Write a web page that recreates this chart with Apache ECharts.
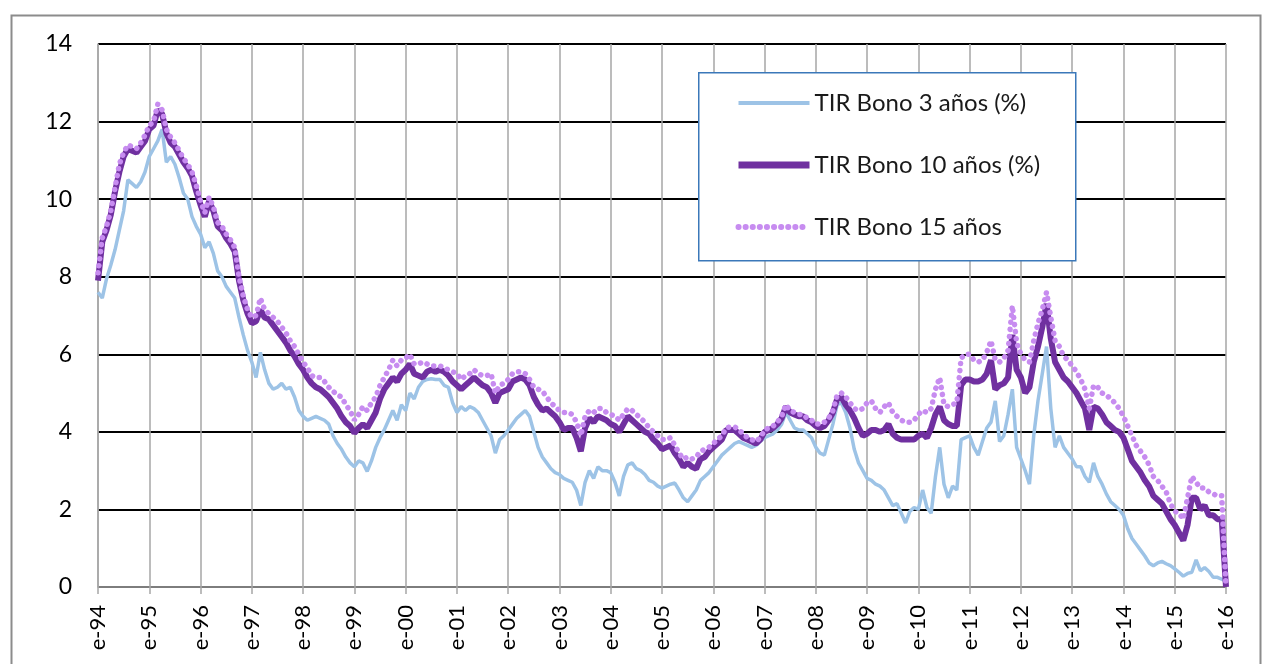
<!DOCTYPE html>
<html>
<head>
<meta charset="utf-8">
<script src="https://cdn.jsdelivr.net/npm/echarts@6/dist/echarts.min.js"></script>
<style>
  html, body { margin: 0; padding: 0; background: #fff; }
  #chart { width: 1263px; height: 664px; }
</style>
</head>
<body>
<div id="chart"></div>
<script>
// months e-94 .. e-16, one value per month
var monthLetters = ['e', 'f', 'm', 'a', 'm', 'j', 'j', 'a', 's', 'o', 'n', 'd'];
var firstYear = 1994, lastYear = 2016;
var yTicks = [0, 2, 4, 6, 8, 10, 12, 14];

var bono3 = [
  7.6, 7.45, 7.95, 8.3, 8.7, 9.2, 9.7, 10.5, 10.4, 10.3, 10.45, 10.7,     // 1994
  11.1, 11.3, 11.5, 11.8, 10.95, 11.1, 10.9, 10.55, 10.15, 10.0, 9.55, 9.3, // 1995
  9.1, 8.75, 8.9, 8.6, 8.15, 8.0, 7.75, 7.6, 7.45, 6.95, 6.5, 6.1,         // 1996
  5.8, 5.4, 6.05, 5.6, 5.25, 5.1, 5.15, 5.25, 5.1, 5.15, 4.9, 4.55,        // 1997
  4.4, 4.3, 4.35, 4.4, 4.35, 4.3, 4.2, 3.9, 3.7, 3.55, 3.35, 3.2,          // 1998
  3.1, 3.25, 3.2, 2.98, 3.25, 3.6, 3.85, 4.05, 4.3, 4.55, 4.3, 4.7,        // 1999
  4.55, 5.0, 4.85, 5.15, 5.3, 5.35, 5.37, 5.35, 5.35, 5.2, 5.15, 4.75,     // 2000
  4.5, 4.65, 4.55, 4.65, 4.6, 4.5, 4.3, 4.1, 3.9, 3.45, 3.8, 3.9,          // 2001
  4.05, 4.2, 4.35, 4.45, 4.55, 4.4, 4.0, 3.6, 3.35, 3.2, 3.05, 2.95,       // 2002
  2.9, 2.8, 2.75, 2.7, 2.5, 2.1, 2.7, 3.0, 2.8, 3.1, 3.0, 3.0,             // 2003
  2.95, 2.7, 2.35, 2.85, 3.15, 3.2, 3.05, 3.0, 2.9, 2.75, 2.7, 2.6,        // 2004
  2.55, 2.6, 2.65, 2.68, 2.5, 2.3, 2.2, 2.35, 2.5, 2.75, 2.85, 2.95,       // 2005
  3.1, 3.25, 3.4, 3.5, 3.6, 3.7, 3.75, 3.7, 3.65, 3.6, 3.65, 3.75,         // 2006
  3.85, 3.9, 3.95, 4.05, 4.2, 4.5, 4.3, 4.1, 4.05, 4.05, 3.95, 3.85,       // 2007
  3.6, 3.45, 3.4, 3.8, 4.2, 4.7, 4.75, 4.5, 4.1, 3.55, 3.2, 3.0,           // 2008
  2.8, 2.75, 2.65, 2.6, 2.5, 2.3, 2.1, 2.15, 1.9, 1.65, 1.95, 2.05,        // 2009
  2.0, 2.5, 2.05, 1.9, 2.85, 3.6, 2.65, 2.3, 2.6, 2.5, 3.8, 3.85,          // 2010
  3.9, 3.6, 3.4, 3.75, 4.1, 4.25, 4.8, 3.75, 3.9, 4.45, 5.1, 3.6,          // 2011
  3.3, 3.0, 2.65, 3.9, 4.8, 5.5, 6.2, 4.6, 3.6, 3.9, 3.6, 3.45,            // 2012
  3.3, 3.1, 3.1, 2.85, 2.7, 3.2, 2.85, 2.65, 2.4, 2.2, 2.1, 2.0,           // 2013
  1.85, 1.5, 1.25, 1.1, 0.95, 0.8, 0.62, 0.55, 0.62, 0.66, 0.6, 0.55,      // 2014
  0.47, 0.38, 0.28, 0.35, 0.38, 0.7, 0.42, 0.5, 0.4, 0.25, 0.25, 0.2,      // 2015
  0.15                                                                    // 2016
];

var bono10 = [
  7.9, 8.9, 9.2, 9.6, 10.2, 10.7, 11.1, 11.3, 11.25, 11.2, 11.35, 11.5,   // 1994
  11.8, 11.9, 12.3, 12.2, 11.7, 11.45, 11.35, 11.15, 10.95, 10.8, 10.6, 10.2, // 1995
  9.85, 9.55, 9.95, 9.7, 9.3, 9.2, 9.0, 8.85, 8.65, 7.9, 7.4, 7.05,       // 1996
  6.8, 6.85, 7.15, 6.95, 6.9, 6.75, 6.6, 6.45, 6.3, 6.1, 5.95, 5.75,      // 1997
  5.6, 5.4, 5.25, 5.15, 5.1, 5.0, 4.9, 4.75, 4.6, 4.4, 4.25, 4.15,        // 1998
  3.97, 4.1, 4.2, 4.1, 4.3, 4.5, 4.85, 5.1, 5.25, 5.4, 5.3, 5.5,          // 1999
  5.6, 5.75, 5.5, 5.45, 5.4, 5.55, 5.6, 5.55, 5.6, 5.55, 5.45, 5.3,       // 2000
  5.2, 5.1, 5.2, 5.3, 5.4, 5.3, 5.2, 5.15, 5.0, 4.75, 5.0, 5.05,          // 2001
  5.1, 5.3, 5.35, 5.4, 5.35, 5.2, 4.9, 4.7, 4.55, 4.6, 4.5, 4.4,          // 2002
  4.25, 4.05, 4.1, 4.1, 3.85, 3.5, 4.1, 4.35, 4.25, 4.4, 4.35, 4.3,       // 2003
  4.2, 4.15, 4.0, 4.2, 4.4, 4.3, 4.2, 4.1, 4.0, 3.95, 3.8, 3.7,           // 2004
  3.55, 3.6, 3.65, 3.45, 3.3, 3.1, 3.2, 3.1, 3.05, 3.3, 3.35, 3.5,        // 2005
  3.6, 3.7, 3.8, 4.05, 4.05, 4.05, 3.95, 3.85, 3.8, 3.75, 3.7, 3.8,       // 2006
  4.0, 4.05, 4.1, 4.2, 4.35, 4.65, 4.5, 4.45, 4.4, 4.4, 4.3, 4.25,        // 2007
  4.15, 4.1, 4.15, 4.3, 4.5, 4.85, 4.9, 4.7, 4.55, 4.35, 4.1, 3.9,        // 2008
  3.95, 4.05, 4.05, 4.0, 4.05, 4.2, 3.95, 3.85, 3.8, 3.8, 3.8, 3.8,       // 2009
  3.9, 3.95, 3.85, 4.1, 4.45, 4.65, 4.3, 4.2, 4.15, 4.15, 5.2, 5.35,      // 2010
  5.35, 5.3, 5.3, 5.35, 5.5, 5.85, 5.1, 5.2, 5.25, 5.4, 6.5, 5.6,         // 2011
  5.4, 5.0, 5.15, 5.8, 6.2, 6.7, 7.3, 6.4, 5.8, 5.6, 5.4, 5.3,            // 2012
  5.15, 5.0, 4.8, 4.6, 4.05, 4.65, 4.6, 4.45, 4.25, 4.15, 4.05, 4.0,      // 2013
  3.85, 3.55, 3.25, 3.1, 2.95, 2.75, 2.6, 2.35, 2.25, 2.15, 1.95, 1.75,   // 2014
  1.6, 1.4, 1.2, 1.6, 2.3, 2.3, 2.0, 2.1, 1.85, 1.85, 1.75, 1.75,         // 2015
  0                                                                       // 2016
];

var bono15 = [
  8.1, 9.0, 9.3, 9.7, 10.3, 10.9, 11.2, 11.4, 11.35, 11.3, 11.45, 11.65,  // 1994
  11.9, 12.0, 12.45, 12.3, 11.8, 11.6, 11.45, 11.25, 11.05, 10.9, 10.7, 10.35, // 1995
  9.95, 9.65, 10.05, 9.8, 9.4, 9.3, 9.1, 8.95, 8.75, 8.0, 7.5, 7.15,      // 1996
  6.95, 7.0, 7.45, 7.15, 7.05, 6.95, 6.85, 6.7, 6.55, 6.35, 6.2, 6.0,     // 1997
  5.8, 5.65, 5.45, 5.4, 5.4, 5.3, 5.15, 5.05, 4.95, 4.9, 4.7, 4.55,       // 1998
  4.3, 4.45, 4.65, 4.55, 4.75, 4.9, 5.2, 5.4, 5.6, 5.85, 5.7, 5.85,       // 1999
  5.9, 6.0, 5.75, 5.75, 5.8, 5.75, 5.7, 5.7, 5.7, 5.65, 5.6, 5.55,        // 2000
  5.5, 5.35, 5.45, 5.5, 5.6, 5.5, 5.45, 5.45, 5.5, 5.0, 5.2, 5.25,        // 2001
  5.35, 5.5, 5.55, 5.55, 5.5, 5.35, 5.15, 5.1, 5.05, 4.9, 4.75, 4.65,     // 2002
  4.55, 4.5, 4.5, 4.45, 4.25, 3.9, 4.4, 4.55, 4.5, 4.6, 4.6, 4.5,         // 2003
  4.45, 4.4, 4.3, 4.45, 4.6, 4.55, 4.45, 4.35, 4.25, 4.1, 4.0, 3.9,       // 2004
  3.8, 3.8, 3.85, 3.65, 3.45, 3.3, 3.35, 3.3, 3.35, 3.5, 3.55, 3.6,       // 2005
  3.7, 3.8, 3.9, 4.1, 4.13, 4.13, 4.05, 3.95, 3.85, 3.8, 3.75, 3.85,      // 2006
  4.05, 4.1, 4.15, 4.25, 4.4, 4.7, 4.55, 4.5, 4.45, 4.45, 4.35, 4.3,      // 2007
  4.2, 4.2, 4.25, 4.35, 4.55, 4.95, 5.0, 4.9, 4.75, 4.6, 4.55, 4.6,       // 2008
  4.75, 4.8, 4.6, 4.5, 4.65, 4.75, 4.5, 4.4, 4.3, 4.25, 4.25, 4.3,        // 2009
  4.45, 4.55, 4.5, 4.6, 5.1, 5.4, 4.7, 4.65, 4.7, 4.75, 5.9, 6.0,         // 2010
  6.0, 5.85, 5.8, 5.85, 6.05, 6.35, 5.85, 5.8, 5.9, 6.1, 7.25, 6.3,       // 2011
  6.0, 5.85, 5.8, 6.35, 6.8, 7.15, 7.6, 6.95, 6.35, 6.2, 5.95, 5.85,      // 2012
  5.7, 5.55, 5.35, 5.1, 4.6, 5.2, 5.15, 5.0, 4.95, 4.85, 4.75, 4.6,       // 2013
  4.4, 4.15, 3.9, 3.65, 3.5, 3.35, 3.15, 2.85, 2.75, 2.6, 2.45, 2.15,     // 2014
  1.95, 1.9, 1.75, 2.3, 2.85, 2.7, 2.55, 2.55, 2.45, 2.4, 2.35, 2.35,     // 2015
  0                                                                       // 2016
];

var seriesNames = ['TIR Bono 3 años (%)', 'TIR Bono 10 años (%)', 'TIR Bono 15 años'];

var categories = [];
for (var y = firstYear; y <= lastYear; y++) {
  for (var m = 0; m < 12; m++) {
    if (y === lastYear && m > 0) break;
    categories.push(monthLetters[m] + '-' + String(y).slice(2) + (m === 0 ? '' : '#' + m));
  }
}
function isJan(i) { return i % 12 === 0; }

var myChart = echarts.init(document.getElementById('chart'));
var font = 'Lato, "Open Sans", sans-serif';

var dotted = [0.1, 7];

option = {
  animation: false,
  backgroundColor: '#fff',
  textStyle: { fontFamily: font },
  graphic: [
    {
      type: 'rect', left: 9, top: 13,
      shape: { width: 1249, height: 662 },
      style: { fill: null, stroke: '#8c8c8c', lineWidth: 2 },
      silent: true
    },
    {
      type: 'rect', left: 698, top: 72, z: 10,
      shape: { width: 377, height: 188 },
      style: { fill: '#fff', stroke: '#3b78b9', lineWidth: 1.5 },
      silent: true
    }
  ],
  grid: { left: 98, right: 37, top: 44, bottom: 77 },
  legend: {
    data: [
      { name: seriesNames[0], lineStyle: { width: 4 } },
      { name: seriesNames[1], lineStyle: { width: 7 } },
      { name: seriesNames[2], lineStyle: { width: 6, type: dotted, cap: 'round' } }
    ],
    orient: 'vertical',
    left: 730,
    top: 86,
    z: 20,
    itemWidth: 71,
    itemHeight: 14,
    itemGap: 38,
    itemStyle: { opacity: 0 },
    textStyle: { fontFamily: font, fontSize: 24, color: '#1a1a1a', lineHeight: 24 }
  },
  xAxis: {
    type: 'category',
    data: categories,
    boundaryGap: false,
    axisLine: { show: true, lineStyle: { color: '#a6a6a6', width: 1.5 } },
    axisTick: { show: true, interval: function (i) { return isJan(i); }, length: 7, lineStyle: { color: '#a6a6a6', width: 1.5 } },
    axisLabel: {
      interval: function (i) { return isJan(i); },
      rotate: 90,
      margin: 18,
      fontFamily: font,
      fontSize: 22,
      color: '#000',
      formatter: function (v) { return v.split('#')[0]; }
    },
    splitLine: { show: true, interval: function (i) { return isJan(i); }, lineStyle: { color: '#a6a6a6', width: 1.5 } }
  },
  yAxis: {
    type: 'value',
    min: yTicks[0],
    max: yTicks[yTicks.length - 1],
    interval: 2,
    axisLine: { show: true, lineStyle: { color: '#a6a6a6', width: 1.5 } },
    axisTick: { show: false },
    axisLabel: { fontFamily: font, fontSize: 23, color: '#000', margin: 26 },
    splitLine: { lineStyle: { color: '#000', width: 2 } }
  },
  series: [
    {
      name: seriesNames[0],
      type: 'line',
      data: bono3,
      symbol: 'none',
      color: '#9dc3e6',
      lineStyle: { width: 3.5, color: '#9dc3e6' }
    },
    {
      name: seriesNames[1],
      type: 'line',
      data: bono10,
      symbol: 'none',
      color: '#7030a0',
      lineStyle: { width: 6, color: '#7030a0' }
    },
    {
      name: seriesNames[2],
      type: 'line',
      data: bono15,
      symbol: 'none',
      color: '#c78cf0',
      lineStyle: { width: 5.5, color: '#c78cf0', type: dotted, cap: 'round' }
    }
  ]
};
myChart.setOption(option);
</script>
</body>
</html>
